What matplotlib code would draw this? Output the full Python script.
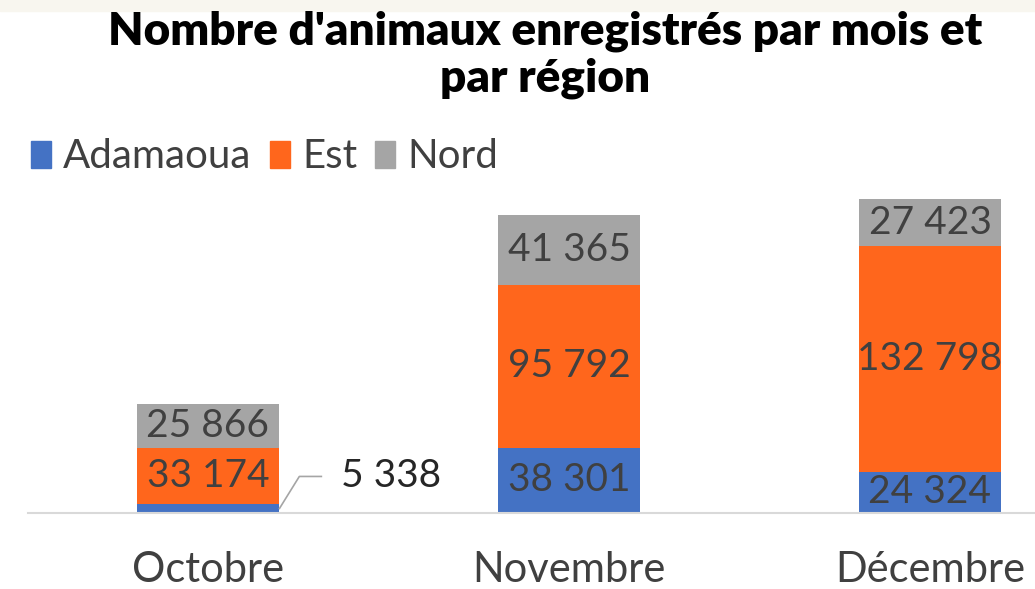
import matplotlib
matplotlib.use("Agg")
import matplotlib.pyplot as plt
from matplotlib.patches import Rectangle, Patch

months = ["Octobre", "Novembre", "Décembre"]
series_names = ["Adamaoua", "Est", "Nord"]
adamaoua = [5338, 38301, 24324]
est = [33174, 95792, 132798]
nord = [25866, 41365, 27423]
labels_adamaoua = ["5 338", "38 301", "24 324"]
labels_est = ["33 174", "95 792", "132 798"]
labels_nord = ["25 866", "41 365", "27 423"]

colors = ["#4472C4", "#FF661C", "#A5A5A5"]
text_color = "#404040"
FONT = ["Lato", "DejaVu Sans"]
plt.rcParams['font.family'] = FONT

W, H = 1035, 589
fig = plt.figure(figsize=(W / 100, H / 100), dpi=100)
fig.patches.append(Rectangle((0, 1 - 11 / H), 1, 11 / H, transform=fig.transFigure,
                             color="#F8F6EF", zorder=0))

# axes: categories 0..2 with xlim -0.5..2.5 spanning 27..1110 px
left_px, right_px = 27.5, 1110.5
base_px, top_px = 513, 173
ax = fig.add_axes([left_px / W, 1 - base_px / H, (right_px - left_px) / W, (base_px - top_px) / H])
ax.set_xlim(-0.5, 2.5)
ax.set_ylim(0, 200000)
for s in ["top", "right", "left"]:
    ax.spines[s].set_visible(False)
ax.spines["bottom"].set_color("#D9D9D9")
ax.spines["bottom"].set_linewidth(1.5)
ax.set_yticks([])
x = list(range(len(months)))
ax.set_xticks(x)
ax.set_xticklabels(months, fontsize=30, color=text_color)
ax.tick_params(axis="x", length=0, pad=27)

width = 0.396
b1 = ax.bar(x, adamaoua, width, color=colors[0], label=series_names[0])
bottom2 = adamaoua
b2 = ax.bar(x, est, width, bottom=bottom2, color=colors[1], label=series_names[1])
bottom3 = [a + e for a, e in zip(adamaoua, est)]
b3 = ax.bar(x, nord, width, bottom=bottom3, color=colors[2], label=series_names[2])

fs = 28
for i in range(len(months)):
    # Adamaoua
    if adamaoua[i] > 15000:
        ax.text(x[i], adamaoua[i] / 2, labels_adamaoua[i], ha="center", va="center",
                fontsize=fs, color=text_color)
    else:
        # callout
        xr = x[i] + width / 2
        y0 = adamaoua[i] / 2
        ax.plot([xr, xr + 0.055, xr + 0.116], [y0, 21500, 21500], color="#A5A5A5", lw=1.2,
                clip_on=False)
        ax.text(xr + 0.17, 21500, labels_adamaoua[i], ha="left", va="center",
                fontsize=fs, color="#262626")
    ax.text(x[i], adamaoua[i] + est[i] / 2, labels_est[i], ha="center", va="center",
            fontsize=fs, color=text_color)
    ax.text(x[i], bottom3[i] + nord[i] / 2, labels_nord[i], ha="center", va="center",
            fontsize=fs, color=text_color)

fig.text(545 / W, 1 - 55 / H, "Nombre d'animaux enregistrés par mois et\npar région",
         ha="center", va="center", fontsize=33, fontweight="heavy", color="black",
         linespacing=1.15)

handles = [Patch(color=c) for c in colors]
fig.legend(handles, series_names, loc="center left", bbox_to_anchor=(15 / W, 1 - 157 / H),
           ncol=3, frameon=False, fontsize=29, handlelength=0.5, handleheight=0.65,
           handletextpad=0.3, columnspacing=0.45, labelcolor=text_color, borderaxespad=0)

fig.savefig("out.png", dpi=100, facecolor="white")
